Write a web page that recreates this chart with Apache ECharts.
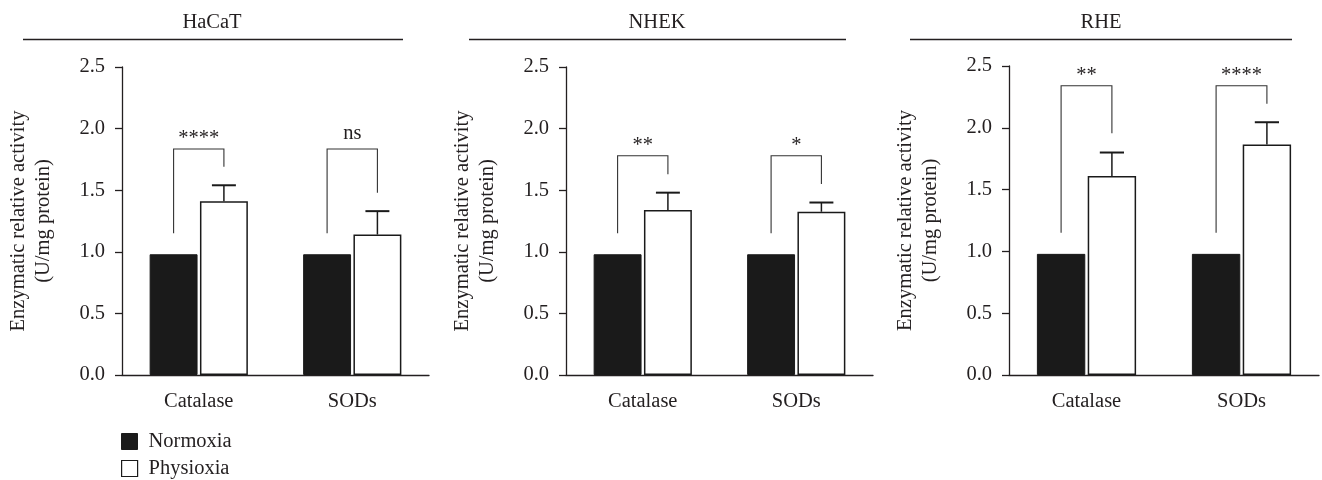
<!DOCTYPE html>
<html>
<head>
<meta charset="utf-8">
<script src="https://cdn.jsdelivr.net/npm/echarts@6/dist/echarts.min.js"></script>
<style>
html,body{margin:0;padding:0;background:#fff;}
#chart{width:1322px;height:480px;}
</style>
</head>
<body>
<div id="chart"></div>
<script>
// ---- data ----
var categories = ['Catalase', 'SODs'];
var panelTitles = ['HaCaT', 'NHEK', 'RHE'];
var seriesNames = ['Normoxia', 'Physioxia'];
var yTicks = [0, 0.5, 1.0, 1.5, 2.0, 2.5];

var normoxiaHaCaT = [0.98, 0.98];
var normoxiaNHEK = [0.98, 0.98];
var normoxiaRHE = [0.98, 0.98];

var physioxiaHaCaT = [1.41, 1.14];
var physioxiaNHEK = [1.34, 1.325];
var physioxiaRHE = [1.61, 1.865];

var physioxiaErrHaCaT = [0.13, 0.19];
var physioxiaErrNHEK = [0.14, 0.075];
var physioxiaErrRHE = [0.19, 0.18];

var bracketTopHaCaT = [1.835, 1.835];
var bracketTopNHEK = [1.78, 1.78];
var bracketTopRHE = [2.34, 2.34];

var bracketLeftEndHaCaT = [1.15, 1.15];
var bracketLeftEndNHEK = [1.15, 1.15];
var bracketLeftEndRHE = [1.15, 1.15];

var bracketRightEndHaCaT = [1.69, 1.48];
var bracketRightEndNHEK = [1.63, 1.55];
var bracketRightEndRHE = [1.955, 2.195];

var sigHaCaT = ['****', 'ns'];
var sigNHEK = ['**', '*'];
var sigRHE = ['**', '****'];

// ---- layout / style ----
var FONT = 'Liberation Serif';
var FS = 20.5;
var TXT = '#231f20';
var BAR_CAT_GAP = 0.36, BAR_GAP = 0.05;

var panels = [
  {norm: normoxiaHaCaT, phys: physioxiaHaCaT, err: physioxiaErrHaCaT, top: bracketTopHaCaT, le: bracketLeftEndHaCaT, re: bracketRightEndHaCaT, sig: sigHaCaT,
   grid: {left: 122, top: 67, width: 307, height: 308}, titleX: 212, lineX: [23, 403]},
  {norm: normoxiaNHEK, phys: physioxiaNHEK, err: physioxiaErrNHEK, top: bracketTopNHEK, le: bracketLeftEndNHEK, re: bracketRightEndNHEK, sig: sigNHEK,
   grid: {left: 566, top: 67, width: 307, height: 308}, titleX: 657, lineX: [469, 846]},
  {norm: normoxiaRHE, phys: physioxiaRHE, err: physioxiaErrRHE, top: bracketTopRHE, le: bracketLeftEndRHE, re: bracketRightEndRHE, sig: sigRHE,
   grid: {left: 1009, top: 66, width: 310, height: 309}, titleX: 1101, lineX: [910, 1292]}
];

function barGeom(api) {
  var band = api.size([1, 0])[0];
  var w = band * (1 - BAR_CAT_GAP) / (2 + BAR_GAP);
  return {w: w, off: w * (1 + BAR_GAP) / 2};
}

var grids = [], xAxes = [], yAxes = [], series = [], graphics = [];

panels.forEach(function (p, i) {
  grids.push(Object.assign({containLabel: false}, p.grid));
  xAxes.push({
    type: 'category', gridIndex: i, data: categories,
    axisLine: {lineStyle: {color: TXT, width: 1.3}},
    axisTick: {alignWithLabel: true, length: 7, lineStyle: {color: TXT, width: 1.3}},
    axisLabel: {color: TXT, fontFamily: FONT, fontSize: FS, margin: 16}
  });
  yAxes.push({
    type: 'value', gridIndex: i, min: yTicks[0], max: yTicks[yTicks.length - 1], interval: 0.5,
    axisLine: {show: true, lineStyle: {color: TXT, width: 1.3}},
    axisTick: {show: true, length: 7, lineStyle: {color: TXT, width: 1.3}},
    splitLine: {show: false},
    axisLabel: {color: TXT, fontFamily: FONT, fontSize: FS, margin: 17, formatter: function (v) { return v.toFixed(1); }},
    name: 'Enzymatic relative activity\n(U/mg protein)',
    nameLocation: 'middle', nameRotate: 90, nameGap: 66,
    nameTextStyle: {color: TXT, fontFamily: FONT, fontSize: FS, lineHeight: 25, align: 'center'}
  });
  series.push({
    name: seriesNames[0], type: 'bar', xAxisIndex: i, yAxisIndex: i, data: p.norm,
    barCategoryGap: (BAR_CAT_GAP * 100) + '%', barGap: (BAR_GAP * 100) + '%',
    itemStyle: {color: '#1a1a1a', borderColor: '#1a1a1a', borderWidth: 1}, silent: true
  });
  series.push({
    name: seriesNames[1], type: 'bar', xAxisIndex: i, yAxisIndex: i, data: p.phys,
    barCategoryGap: (BAR_CAT_GAP * 100) + '%', barGap: (BAR_GAP * 100) + '%',
    itemStyle: {color: '#ffffff', borderColor: '#1a1a1a', borderWidth: 1.5}, silent: true
  });
  // error bars (upper only) on physioxia
  series.push({
    type: 'custom', xAxisIndex: i, yAxisIndex: i, silent: true, z: 5,
    data: p.phys.map(function (v, k) { return [k, v, v + p.err[k]]; }),
    encode: {x: 0, y: [1, 2]},
    renderItem: function (params, api) {
      var g = barGeom(api);
      var base = api.coord([api.value(0), api.value(1)]);
      var topY = api.coord([api.value(0), api.value(2)])[1];
      var x = base[0] + g.off;
      var cap = g.w / 4;
      return {type: 'group', children: [
        {type: 'line', shape: {x1: x, y1: base[1], x2: x, y2: topY}, style: {stroke: '#1a1a1a', lineWidth: 1.5}},
        {type: 'line', shape: {x1: x - cap, y1: topY, x2: x + cap, y2: topY}, style: {stroke: '#1a1a1a', lineWidth: 2}}
      ]};
    }
  });
  // significance brackets
  (function (sig) {
    series.push({
      type: 'custom', xAxisIndex: i, yAxisIndex: i, silent: true, z: 6,
      data: p.top.map(function (t, k) { return [k, t, p.le[k], p.re[k]]; }),
      encode: {x: 0, y: [1, 2, 3]},
      renderItem: function (params, api) {
        var g = barGeom(api);
        var c = api.coord([api.value(0), api.value(1)]);
        var yl = api.coord([api.value(0), api.value(2)])[1];
        var yr = api.coord([api.value(0), api.value(3)])[1];
        var xl = c[0] - g.off, xr = c[0] + g.off;
        var label = sig[params.dataIndex];
        var isStar = label.indexOf('*') >= 0;
        return {type: 'group', children: [
          {type: 'polyline', shape: {points: [[xl, yl], [xl, c[1]], [xr, c[1]], [xr, yr]]},
           style: {stroke: '#333', lineWidth: 1.1, fill: null}},
          {type: 'text', x: c[0], y: c[1] - (isStar ? 0 : 5),
           style: {text: label, fill: TXT, font: FS + 'px "' + FONT + '"', align: 'center', verticalAlign: 'bottom'}}
        ]};
      }
    });
  })(p.sig);

  graphics.push({type: 'text', x: p.titleX, y: 23, style: {text: panelTitles[i], fill: TXT, font: FS + 'px "' + FONT + '"', align: 'center', verticalAlign: 'middle'}});
  graphics.push({type: 'line', shape: {x1: p.lineX[0], y1: 39.5, x2: p.lineX[1], y2: 39.5}, style: {stroke: TXT, lineWidth: 1.3}});
});

var legendText = {color: TXT, fontFamily: FONT, fontSize: FS, padding: [0, 0, 0, 6]};
var chart = echarts.init(document.getElementById('chart'), null, {renderer: 'canvas'});
chart.setOption({
  animation: false,
  backgroundColor: '#ffffff',
  textStyle: {fontFamily: FONT},
  grid: grids,
  xAxis: xAxes,
  yAxis: yAxes,
  legend: [
    {left: 116, top: 426, itemWidth: 16, itemHeight: 16, selectedMode: false, textStyle: legendText,
     data: [{name: seriesNames[0], icon: 'rect', itemStyle: {color: '#1a1a1a', borderColor: '#1a1a1a', borderWidth: 1}}]},
    {left: 116, top: 453, itemWidth: 16, itemHeight: 16, selectedMode: false, textStyle: legendText,
     data: [{name: seriesNames[1], icon: 'rect', itemStyle: {color: '#ffffff', borderColor: '#1a1a1a', borderWidth: 1.2}}]}
  ],
  graphic: graphics,
  series: series
});
</script>
</body>
</html>
